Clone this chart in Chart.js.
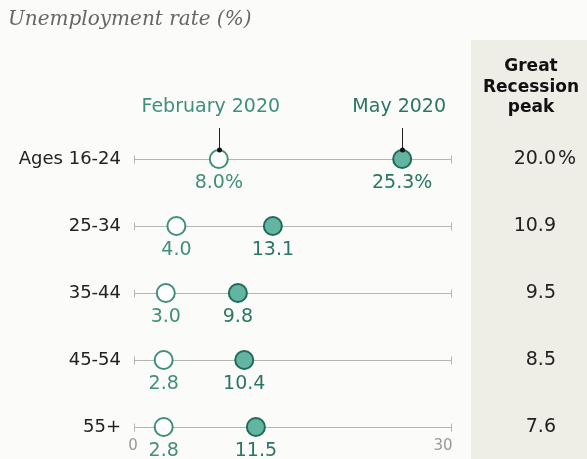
<!DOCTYPE html>
<html><head><meta charset="utf-8">
<script src="https://cdn.jsdelivr.net/npm/chart.js@4/dist/chart.umd.min.js"></script>
<style>
html,body{margin:0;padding:0;background:#fbfbfa;}
#wrap{position:relative;width:587px;height:459px;}
</style></head>
<body><div id="wrap"><canvas id="c" width="587" height="459"></canvas></div>
<script>
const categories = ["Ages 16-24", "25-34", "35-44", "45-54", "55+"];
const feb2020 = [8.0, 4.0, 3.0, 2.8, 2.8];
const may2020 = [25.3, 13.1, 9.8, 10.4, 11.5];
const recessionPeak = [20.0, 10.9, 9.5, 8.5, 7.6];
const xTicks = [0, 30];
const title = "Unemployment rate (%)";

const FONT = "'DejaVu Sans', Arial, sans-serif";

const deco = {
  id: 'deco',
  beforeDraw(chart) {
    const ctx = chart.ctx, xs = chart.scales.x, ys = chart.scales.y;
    ctx.save();
    ctx.fillStyle = '#fbfbfa';
    ctx.fillRect(0, 0, chart.width, chart.height);
    // grey band
    ctx.fillStyle = '#eeede6';
    ctx.fillRect(471, 40, chart.width - 471, chart.height - 40);
    // title
    ctx.fillStyle = '#666';
    ctx.font = "italic 20px 'DejaVu Serif', Georgia, serif";
    ctx.textBaseline = 'alphabetic';
    ctx.textAlign = 'left';
    ctx.fillText(title, 8, 25);
    // row lines
    categories.forEach((c, i) => {
      const y = Math.round(ys.getPixelForValue(i)) + 0.5;
      const x0 = xs.getPixelForValue(xTicks[0]), x1 = xs.getPixelForValue(xTicks[1]);
      ctx.strokeStyle = '#b5b5b5';
      ctx.lineWidth = 1;
      ctx.beginPath();
      ctx.moveTo(x0, y); ctx.lineTo(x1, y);
      ctx.moveTo(x0 + 0.5, y - 4); ctx.lineTo(x0 + 0.5, y + 4);
      ctx.moveTo(x1 - 0.5, y - 4); ctx.lineTo(x1 - 0.5, y + 4);
      ctx.stroke();
      // category label
      ctx.fillStyle = '#222';
      ctx.font = "18px " + FONT;
      ctx.textAlign = 'right';
      ctx.textBaseline = 'middle';
      ctx.fillText(c, 121, y);
      // recession peak (decimal-aligned, % hanging)
      ctx.font = "19px " + FONT;
      ctx.textAlign = 'right';
      ctx.fillText(recessionPeak[i].toFixed(1), 556, y);
      if (i === 0) { ctx.textAlign = 'left'; ctx.fillText('%', 558, y); }
    });
    // header
    ctx.font = "bold 17px " + FONT;
    ctx.fillStyle = '#111';
    ctx.textAlign = 'center';
    ctx.textBaseline = 'middle';
    ctx.fillText('Great', 531, 67);
    ctx.fillText('Recession', 531, 88);
    ctx.fillText('peak', 531, 108);
    // axis tick labels
    ctx.font = "15px " + FONT;
    ctx.fillStyle = '#999';
    const yl = ys.getPixelForValue(categories.length - 1) + 19;
    ctx.textAlign = 'center';
    ctx.fillText(String(xTicks[0]), xs.getPixelForValue(xTicks[0]) - 1, yl);
    ctx.fillText(String(xTicks[1]), xs.getPixelForValue(xTicks[1]) - 9, yl);
    // annotations
    const y0 = ys.getPixelForValue(0);
    [[feb2020[0], 'February 2020', '#3f8f7b', -8], [may2020[0], 'May 2020', '#2a7564', -3]].forEach(([v, t, col, off]) => {
      const x = xs.getPixelForValue(v);
      ctx.strokeStyle = '#222';
      ctx.lineWidth = 1;
      ctx.beginPath();
      ctx.moveTo(Math.round(x) + 0.5, y0 - 31); ctx.lineTo(Math.round(x) + 0.5, y0 - 9);
      ctx.stroke();
      ctx.fillStyle = col;
      ctx.font = "19px " + FONT;
      ctx.textAlign = 'center';
      ctx.textBaseline = 'middle';
      ctx.fillText(t, x + off, y0 - 52);
    });
    ctx.restore();
  },
  afterDatasetsDraw(chart) {
    const ctx = chart.ctx, xs = chart.scales.x, ys = chart.scales.y;
    ctx.save();
    const y0 = ys.getPixelForValue(0);
    [feb2020[0], may2020[0]].forEach(v => {
      const x = xs.getPixelForValue(v);
      ctx.fillStyle = '#111';
      ctx.beginPath();
      ctx.arc(Math.round(x) + 0.5, y0 - 9, 2.5, 0, Math.PI * 2);
      ctx.fill();
    });
    ctx.font = "19px " + FONT;
    ctx.textAlign = 'center';
    ctx.textBaseline = 'middle';
    categories.forEach((c, i) => {
      const y = ys.getPixelForValue(i) + 24;
      ctx.fillStyle = '#3f8f7b';
      ctx.fillText(feb2020[i].toFixed(1) + (i === 0 ? '%' : ''), xs.getPixelForValue(feb2020[i]), y);
      ctx.fillStyle = '#2a7564';
      ctx.fillText(may2020[i].toFixed(1) + (i === 0 ? '%' : ''), xs.getPixelForValue(may2020[i]), y);
    });
    ctx.restore();
  }
};

new Chart(document.getElementById('c'), {
  type: 'scatter',
  data: {
    datasets: [
      {
        label: 'February 2020',
        data: feb2020.map((v, i) => ({x: v, y: i})),
        pointRadius: 9, pointHoverRadius: 9,
        pointBackgroundColor: '#ffffff', pointBorderColor: '#3f8f7b', pointBorderWidth: 2,
        clip: false
      },
      {
        label: 'May 2020',
        data: may2020.map((v, i) => ({x: v, y: i})),
        pointRadius: 9, pointHoverRadius: 9,
        pointBackgroundColor: '#63b5a2', pointBorderColor: '#1f6b5a', pointBorderWidth: 2,
        clip: false
      }
    ]
  },
  options: {
    responsive: false,
    animation: false,
    layout: { padding: { left: 134, right: 135, top: 159, bottom: 32 } },
    plugins: { legend: { display: false }, tooltip: { enabled: false } },
    scales: {
      x: { type: 'linear', min: xTicks[0], max: xTicks[1], display: false },
      y: { type: 'linear', min: 0, max: categories.length - 1, reverse: true, display: false }
    }
  },
  plugins: [deco]
});
</script></body></html>
